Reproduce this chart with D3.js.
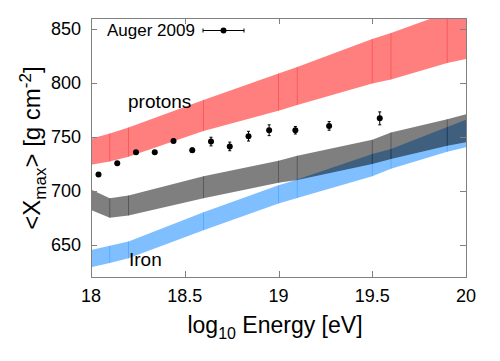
<!DOCTYPE html>
<html>
<head>
<meta charset="utf-8">
<script src="https://d3js.org/d3.v7.min.js"></script>
<style>
  body { margin: 0; background: #fff; }
  svg { display: block; font-family: "Liberation Sans", Arial, sans-serif; }
  .frame { fill: none; stroke: #808080; stroke-width: 1; }
  .tick-mark { stroke: #808080; stroke-width: 1; }
  .tick-label { font-size: 18px; fill: #000; }
</style>
</head>
<body>
<script>
// band edges (log10 E), model predictions of <Xmax>
var bandX = [18, 18.1, 18.2, 18.6, 19.0, 19.1, 19.5, 19.6, 19.9, 20];
var protonHigh = [748, 753, 758.6, 784, 808.6, 814.7, 840.5, 846, 865, 871];
var protonLow  = [724, 727, 731.5, 755.4, 774, 779.4, 799.4, 803, 818.4, 822];
var ironHigh = [645, 649, 653, 680, 705, 710.3, 734, 738.6, 759, 765.6];
var ironLow  = [629, 633, 637.3, 663.4, 688, 693.2, 713.4, 720.2, 736, 740.2];
var mixHigh = [701, 693, 695.6, 713.4, 727.8, 732.4, 747.2, 754, 766.2, 770.8];
var mixLow  = [682, 675, 677, 693, 707.3, 710, 724.8, 729.4, 741.6, 744.8];

// Auger 2009 measurements
var augerE = [18.04, 18.14, 18.24, 18.34, 18.44, 18.54, 18.64, 18.74, 18.84, 18.95, 19.09, 19.27, 19.54];
var augerX = [715, 725.5, 735.5, 735.5, 746, 737.5, 745.5, 741, 750.5, 756, 756, 760, 767];
var augerErr = [1.5, 1.5, 1.5, 1.5, 1.5, 2, 4, 4, 4.5, 5, 3.5, 4, 6];

var xTicks = [18, 18.5, 19, 19.5, 20];
var yTicks = [650, 700, 750, 800, 850];

var width = 500, height = 361;
var margin = {top: 18, right: 34, bottom: 84, left: 91};

var svg = d3.select("body").append("svg")
  .attr("width", width)
  .attr("height", height);

var xScale = d3.scaleLinear()
  .domain([18, 20])
  .range([margin.left, width - margin.right]);
var yScale = d3.scaleLinear()
  .domain([620, 860])
  .range([height - margin.bottom, margin.top]);

svg.append("clipPath")
  .attr("id", "plot-clip")
  .append("rect")
  .attr("x", margin.left)
  .attr("y", margin.top)
  .attr("width", width - margin.left - margin.right)
  .attr("height", height - margin.top - margin.bottom);

var plot = svg.append("g").attr("clip-path", "url(#plot-clip)");

function band(high, low, color) {
  var rows = bandX.map(function(x, i) { return {x: x, hi: high[i], lo: low[i]}; });
  var area = d3.area()
    .x(function(d) { return xScale(d.x); })
    .y0(function(d) { return yScale(d.lo); })
    .y1(function(d) { return yScale(d.hi); });
  plot.append("path")
    .attr("d", area(rows))
    .attr("fill", color)
    .attr("fill-opacity", 0.5);
  // seams between gnuplot segments
  plot.selectAll(null)
    .data(rows.slice(1, rows.length - 1))
    .enter()
    .append("line")
    .attr("x1", function(d) { return xScale(d.x); })
    .attr("x2", function(d) { return xScale(d.x); })
    .attr("y1", function(d) { return yScale(d.lo); })
    .attr("y2", function(d) { return yScale(d.hi); })
    .attr("stroke", color)
    .attr("stroke-opacity", 0.3)
    .attr("stroke-width", 1);
}

band(protonHigh, protonLow, "rgb(255,0,0)");
band(ironHigh, ironLow, "rgb(0,128,255)");
band(mixHigh, mixLow, "rgb(0,0,0)");

// data points with error bars
var pts = augerE.map(function(e, i) { return {e: e, x: augerX[i], err: augerErr[i]}; });
var pg = svg.append("g");
pg.selectAll(".err")
  .data(pts)
  .enter()
  .append("path")
  .attr("class", "err")
  .attr("d", function(d) {
    var cx = xScale(d.e), y1 = yScale(d.x + d.err), y2 = yScale(d.x - d.err);
    return "M" + cx + "," + y1 + "V" + y2 +
      "M" + (cx - 1.5) + "," + y1 + "H" + (cx + 1.5) +
      "M" + (cx - 1.5) + "," + y2 + "H" + (cx + 1.5);
  })
  .attr("stroke", "#000")
  .attr("stroke-width", 1)
  .attr("fill", "none");
pg.selectAll(".dot")
  .data(pts)
  .enter()
  .append("circle")
  .attr("class", "dot")
  .attr("cx", function(d) { return xScale(d.e); })
  .attr("cy", function(d) { return yScale(d.x); })
  .attr("r", 3)
  .attr("fill", "#000");

// frame + inward ticks on all sides
var x0 = margin.left, x1 = width - margin.right, y0 = margin.top, y1 = height - margin.bottom;
svg.append("rect")
  .attr("class", "frame")
  .attr("x", x0 + 0.5).attr("y", y0 + 0.5)
  .attr("width", x1 - x0).attr("height", y1 - y0);

var tickLen = 6;
xTicks.forEach(function(t) {
  var x = Math.round(xScale(t)) + 0.5;
  svg.append("line").attr("class", "tick-mark")
    .attr("x1", x).attr("x2", x).attr("y1", y1).attr("y2", y1 - tickLen);
  svg.append("line").attr("class", "tick-mark")
    .attr("x1", x).attr("x2", x).attr("y1", y0).attr("y2", y0 + tickLen);
  svg.append("text").attr("class", "tick-label")
    .attr("x", xScale(t))
    .attr("y", 302)
    .attr("text-anchor", "middle")
    .text(t);
});
yTicks.forEach(function(t) {
  var y = Math.round(yScale(t)) + 0.5;
  svg.append("line").attr("class", "tick-mark")
    .attr("x1", x0).attr("x2", x0 + tickLen).attr("y1", y).attr("y2", y);
  svg.append("line").attr("class", "tick-mark")
    .attr("x1", x1).attr("x2", x1 - tickLen).attr("y1", y).attr("y2", y);
  svg.append("text").attr("class", "tick-label")
    .attr("x", 81)
    .attr("y", yScale(t))
    .attr("dy", "0.35em")
    .attr("text-anchor", "end")
    .text(t);
});

// axis titles
var xt = svg.append("text")
  .attr("x", 275)
  .attr("y", 333)
  .attr("text-anchor", "middle")
  .attr("font-size", 23);
xt.append("tspan").text("log");
xt.append("tspan").attr("font-size", 16).attr("dy", 6).text("10");
xt.append("tspan").attr("dy", -6).text(" Energy [eV]");

var yt = svg.append("text")
  .attr("transform", "translate(40,148) rotate(-90)")
  .attr("text-anchor", "middle")
  .attr("font-size", 24);
yt.append("tspan").text("<X");
yt.append("tspan").attr("font-size", 17).attr("dy", 6).text("max");
yt.append("tspan").attr("dy", -6).text("> [g cm");
yt.append("tspan").attr("font-size", 17).attr("dy", -9).text("-2");
yt.append("tspan").attr("dy", 9).text("]");

// band labels
svg.append("text").attr("x", 128).attr("y", 108).attr("font-size", 19).text("protons");
svg.append("text").attr("x", 129).attr("y", 266).attr("font-size", 19).text("Iron");

// legend
svg.append("text").attr("x", 107).attr("y", 36).attr("font-size", 17).text("Auger 2009");
var ly = 30.5;
svg.append("path")
  .attr("d", "M203," + ly + "H244M203," + (ly - 2) + "V" + (ly + 2) + "M244," + (ly - 2) + "V" + (ly + 2))
  .attr("stroke", "#000")
  .attr("fill", "none");
svg.append("circle").attr("cx", 223.5).attr("cy", ly).attr("r", 3).attr("fill", "#000");
</script>
</body>
</html>
